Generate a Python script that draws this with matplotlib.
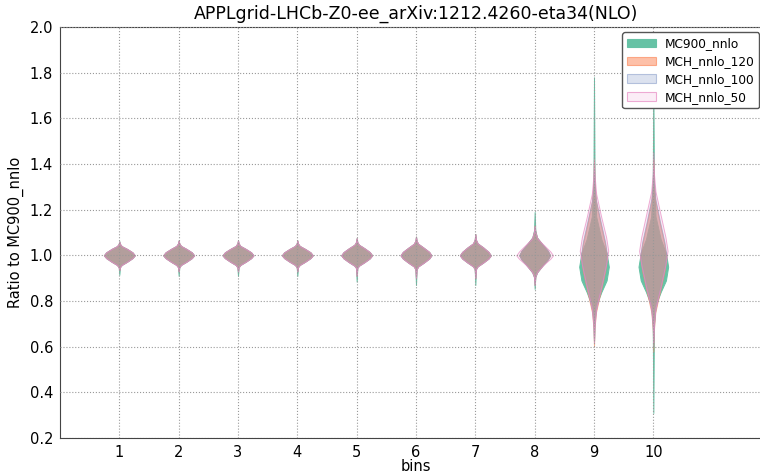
import numpy as np
import matplotlib
matplotlib.use("Agg")
import matplotlib.pyplot as plt
from matplotlib.colors import to_rgba
from matplotlib.patches import Patch

bins = [1, 2, 3, 4, 5, 6, 7, 8, 9, 10]
labels = ['MC900_nnlo', 'MCH_nnlo_120', 'MCH_nnlo_100', 'MCH_nnlo_50']
colors = ['#66c2a5', '#fc8d62', '#8da0cb', '#e78ac3']
alphas = [1.0, 0.55, 0.3, 0.15]
edge_alphas = [1.0, 0.7, 0.6, 0.7]

# relative violin width at each profile point (bottom -> top)
levels = [0, 0.04, 0.15, 0.5, 0.85, 1, 0.85, 0.5, 0.15, 0.04, 0]

# ratio values where each violin reaches the widths above, one row per bin
mc900 = [
    [0.915, 0.948, 0.958, 0.972, 0.988, 1.0, 1.013, 1.028, 1.040, 1.050, 1.062],
    [0.910, 0.948, 0.958, 0.972, 0.988, 1.0, 1.013, 1.028, 1.041, 1.052, 1.065],
    [0.910, 0.948, 0.958, 0.972, 0.988, 1.0, 1.013, 1.028, 1.041, 1.052, 1.065],
    [0.910, 0.948, 0.958, 0.972, 0.988, 1.0, 1.013, 1.028, 1.041, 1.052, 1.065],
    [0.885, 0.945, 0.955, 0.970, 0.987, 1.0, 1.014, 1.031, 1.046, 1.058, 1.075],
    [0.870, 0.940, 0.952, 0.968, 0.986, 1.0, 1.015, 1.033, 1.050, 1.063, 1.082],
    [0.870, 0.940, 0.952, 0.968, 0.986, 1.0, 1.015, 1.035, 1.052, 1.068, 1.093],
    [0.853, 0.905, 0.925, 0.955, 0.982, 1.0, 1.020, 1.048, 1.078, 1.110, 1.190],
    [0.620, 0.720, 0.780, 0.840, 0.890, 0.95, 1.010, 1.070, 1.170, 1.320, 1.780],
    [0.310, 0.700, 0.780, 0.840, 0.890, 0.95, 1.010, 1.070, 1.170, 1.320, 1.750],
]
mch120 = [
    [0.935, 0.948, 0.958, 0.972, 0.988, 1.0, 1.013, 1.028, 1.040, 1.050, 1.060],
    [0.930, 0.948, 0.958, 0.972, 0.988, 1.0, 1.013, 1.028, 1.041, 1.052, 1.065],
    [0.930, 0.948, 0.958, 0.972, 0.988, 1.0, 1.013, 1.028, 1.041, 1.052, 1.065],
    [0.930, 0.948, 0.958, 0.972, 0.988, 1.0, 1.013, 1.028, 1.041, 1.052, 1.065],
    [0.910, 0.945, 0.955, 0.970, 0.987, 1.0, 1.014, 1.031, 1.046, 1.058, 1.075],
    [0.900, 0.940, 0.952, 0.968, 0.986, 1.0, 1.015, 1.033, 1.050, 1.063, 1.082],
    [0.900, 0.940, 0.952, 0.968, 0.986, 1.0, 1.015, 1.035, 1.052, 1.068, 1.093],
    [0.870, 0.905, 0.925, 0.955, 0.982, 1.0, 1.020, 1.048, 1.078, 1.105, 1.130],
    [0.600, 0.680, 0.750, 0.840, 0.930, 0.99, 1.050, 1.140, 1.240, 1.320, 1.420],
    [0.580, 0.670, 0.750, 0.840, 0.930, 0.99, 1.050, 1.140, 1.240, 1.320, 1.420],
]
mch100 = [
    [0.935, 0.948, 0.958, 0.972, 0.988, 1.0, 1.013, 1.028, 1.040, 1.050, 1.060],
    [0.930, 0.948, 0.958, 0.972, 0.988, 1.0, 1.013, 1.028, 1.041, 1.052, 1.065],
    [0.930, 0.948, 0.958, 0.972, 0.988, 1.0, 1.013, 1.028, 1.041, 1.052, 1.065],
    [0.930, 0.948, 0.958, 0.972, 0.988, 1.0, 1.013, 1.028, 1.041, 1.052, 1.065],
    [0.910, 0.945, 0.955, 0.970, 0.987, 1.0, 1.014, 1.031, 1.046, 1.058, 1.075],
    [0.900, 0.940, 0.952, 0.968, 0.986, 1.0, 1.015, 1.033, 1.050, 1.063, 1.082],
    [0.900, 0.940, 0.952, 0.968, 0.986, 1.0, 1.015, 1.035, 1.052, 1.068, 1.093],
    [0.870, 0.905, 0.925, 0.955, 0.982, 1.0, 1.020, 1.048, 1.078, 1.105, 1.126],
    [0.620, 0.690, 0.760, 0.850, 0.940, 1.00, 1.060, 1.150, 1.240, 1.310, 1.380],
    [0.600, 0.680, 0.760, 0.850, 0.940, 1.00, 1.060, 1.150, 1.250, 1.320, 1.380],
]
mch50 = [
    [0.935, 0.948, 0.958, 0.972, 0.988, 1.0, 1.013, 1.028, 1.040, 1.050, 1.060],
    [0.930, 0.948, 0.958, 0.972, 0.988, 1.0, 1.013, 1.028, 1.041, 1.052, 1.065],
    [0.930, 0.948, 0.958, 0.972, 0.988, 1.0, 1.013, 1.028, 1.041, 1.052, 1.065],
    [0.930, 0.948, 0.958, 0.972, 0.988, 1.0, 1.013, 1.028, 1.041, 1.052, 1.065],
    [0.910, 0.945, 0.955, 0.970, 0.987, 1.0, 1.014, 1.031, 1.046, 1.058, 1.075],
    [0.900, 0.940, 0.952, 0.968, 0.986, 1.0, 1.015, 1.033, 1.050, 1.063, 1.082],
    [0.900, 0.940, 0.952, 0.968, 0.986, 1.0, 1.015, 1.035, 1.052, 1.068, 1.093],
    [0.870, 0.910, 0.930, 0.960, 0.985, 1.0, 1.017, 1.045, 1.072, 1.100, 1.130],
    [0.620, 0.700, 0.770, 0.860, 0.960, 1.02, 1.080, 1.170, 1.270, 1.350, 1.420],
    [0.620, 0.700, 0.770, 0.860, 0.960, 1.02, 1.080, 1.180, 1.280, 1.360, 1.450],
]
# full width of each violin
widths_mc900 = [0.52, 0.52, 0.52, 0.52, 0.52, 0.52, 0.52, 0.52, 0.50, 0.50]
widths_mch120 = [0.52, 0.52, 0.52, 0.52, 0.52, 0.52, 0.52, 0.52, 0.44, 0.44]
widths_mch100 = [0.52, 0.52, 0.52, 0.52, 0.52, 0.52, 0.52, 0.52, 0.44, 0.44]
widths_mch50 = [0.52, 0.52, 0.52, 0.52, 0.52, 0.52, 0.52, 0.62, 0.48, 0.48]

series = [mc900, mch120, mch100, mch50]
series_widths = [widths_mc900, widths_mch120, widths_mch100, widths_mch50]

fig = plt.figure(figsize=(7.6, 4.75), dpi=100)
ax = fig.add_axes([60 / 760, 37 / 475, 712 / 760, 411 / 475])

for ys_list, wl, c, a, ea in zip(series, series_widths, colors, alphas, edge_alphas):
    stats = []
    for ys in ys_list:
        stats.append({'coords': np.array(ys), 'vals': np.array(levels, dtype=float),
                      'mean': ys[5], 'median': ys[5], 'min': ys[0], 'max': ys[-1]})
    parts = ax.violin(stats, positions=bins, widths=wl, showmeans=False,
                      showextrema=False, showmedians=False)
    for body in parts['bodies']:
        body.set_alpha(None)
        body.set_facecolor(to_rgba(c, a))
        body.set_edgecolor(to_rgba(c, ea))
        body.set_linewidth(0.7)

ax.set_xlim(0, 12)
ax.set_ylim(0.2, 2.0)
ax.set_xticks(bins)
ax.set_yticks(np.arange(0.2, 2.01, 0.2))
ax.set_yticklabels(['%.1f' % v for v in np.arange(0.2, 2.01, 0.2)])
ax.tick_params(length=0, labelsize=10.5, pad=5)
ax.set_axisbelow(False)
ax.grid(True, color='#999999', linestyle=':', linewidth=0.8)
for s in ax.spines.values():
    s.set_color('#444444')

ax.set_title('APPLgrid-LHCb-Z0-ee_arXiv:1212.4260-eta34(NLO)', fontsize=12.5)
ax.set_xlabel('bins', fontsize=10.5, labelpad=-1)
ax.set_ylabel('Ratio to MC900_nnlo', fontsize=10.5)

handles = [Patch(facecolor=to_rgba(c, a), edgecolor=to_rgba(c, ea), linewidth=0.8)
           for c, a, ea in zip(colors, alphas, edge_alphas)]
ax.legend(handles, labels, loc='upper right', bbox_to_anchor=(759 / 760, 0.932),
          bbox_transform=fig.transFigure, fontsize=8.7, framealpha=1,
          edgecolor='#555555', fancybox=True, borderaxespad=0, borderpad=0.4,
          labelspacing=0.4, handlelength=2.4, handletextpad=0.7)

fig.savefig('out.png', dpi=100)
